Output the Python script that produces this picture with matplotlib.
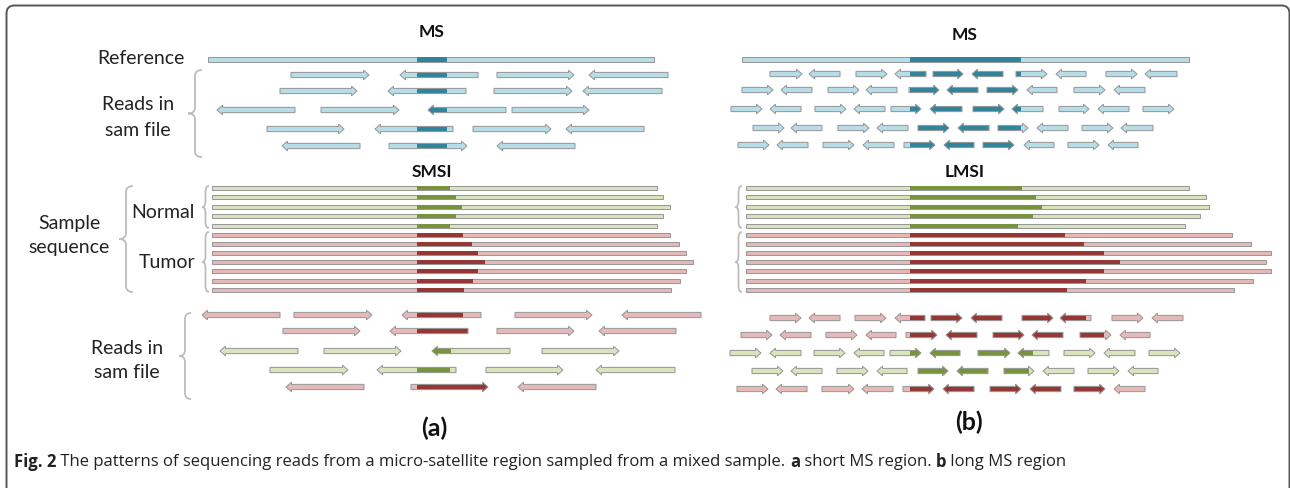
import matplotlib
matplotlib.use("Agg")
import matplotlib.pyplot as plt
from matplotlib.patches import Polygon, Rectangle, PathPatch
from matplotlib.path import Path

# ---- colours ----
BLUE_L, BLUE_D = "#b7dde8", "#31849b"
GREEN_L, GREEN_D = "#d7e4bd", "#77933c"
PINK_L, PINK_D = "#e6b9b8", "#953735"
EDGE = "#999999"

# ---- data (positions along the sequence, in figure px) ----
ref_a = (208, 654)
ms_a = (417, 447)
ref_b = (742, 1189)
ms_b = (910, 1021)

# reads from the reference panel: (start, end, direction)
reads_a_top = [
    [(291, 369, "R"), (400, 478, "L"), (497, 574, "R"), (589, 668, "L")],
    [(280, 357, "R"), (388, 466, "L"), (494, 572, "R"), (583, 662, "L")],
    [(217, 295, "L"), (321, 399, "R"), (428, 506, "L"), (512, 589, "R")],
    [(267, 344, "R"), (375, 453, "L"), (473, 551, "R"), (566, 644, "L")],
    [(282, 360, "L"), (389, 467, "R"), (497, 575, "L")],
]
reads_b_top = [
    [(770, 802, "R"), (809, 840, "L"), (856, 887, "R"), (895, 926, "L"), (933, 963, "R"),
     (972, 1003, "L"), (1016, 1047, "R"), (1056, 1086, "L"), (1106, 1137, "R"), (1145, 1177, "L")],
    [(742, 773, "R"), (781, 812, "L"), (828, 859, "R"), (866, 897, "L"), (909, 939, "R"),
     (947, 978, "L"), (987, 1018, "R"), (1027, 1057, "L"), (1074, 1105, "R"), (1114, 1145, "L")],
    [(731, 762, "R"), (770, 801, "L"), (815, 846, "R"), (854, 885, "L"), (891, 921, "R"),
     (930, 962, "L"), (973, 1004, "R"), (1012, 1043, "L"), (1059, 1089, "R"), (1098, 1129, "L"),
     (1143, 1174, "R")],
    [(753, 784, "R"), (791, 822, "L"), (838, 869, "R"), (877, 908, "L"), (918, 949, "R"),
     (958, 989, "L"), (998, 1028, "R"), (1037, 1068, "L"), (1082, 1113, "R"), (1121, 1153, "L")],
    [(738, 769, "R"), (777, 808, "L"), (823, 854, "R"), (863, 894, "L"), (904, 935, "R"),
     (944, 974, "L"), (983, 1014, "R"), (1024, 1054, "L"), (1068, 1099, "R"), (1108, 1138, "L")],
]

# sample sequences: end of the whole sequence and end of the MS allele
normal_a_end = [657, 663, 670, 663, 657]
normal_a_ms = [450, 456, 462, 456, 450]
tumor_a_end = [670, 679, 686, 693, 686, 680, 671]
tumor_a_ms = [463, 472, 478, 485, 478, 473, 464]
seq_a_start = 212

normal_b_end = [1189, 1206, 1209, 1200, 1185]
normal_b_ms = [1022, 1036, 1042, 1033, 1018]
tumor_b_end = [1232, 1251, 1271, 1266, 1271, 1253, 1234]
tumor_b_ms = [1065, 1084, 1104, 1120, 1104, 1086, 1067]
seq_b_start = 746

# reads from the mixed sample: origin per row, MS end of the allele per row
mixed_a_origin = ["tumor", "tumor", "normal", "normal", "tumor"]
mixed_a_ms_end = [463, 468, 451, 450, 488]
reads_a_bottom = [
    [(202, 280, "L"), (294, 372, "R"), (402, 481, "L"), (515, 592, "R"), (622, 701, "L")],
    [(283, 360, "R"), (390, 468, "L"), (497, 574, "R"), (599, 676, "L")],
    [(220, 298, "L"), (324, 401, "R"), (432, 510, "L"), (542, 619, "R")],
    [(270, 348, "R"), (377, 456, "L"), (486, 563, "R"), (596, 675, "L")],
    [(286, 364, "L"), (411, 488, "R"), (518, 596, "L")],
]
mixed_b_origin = ["tumor", "tumor", "normal", "normal", "tumor"]
mixed_b_ms_end = [1086, 1104, 1033, 1029, 1106]
reads_b_bottom = [
    [(770, 801, "R"), (809, 840, "L"), (855, 886, "R"), (895, 925, "L"), (931, 962, "R"),
     (971, 1002, "L"), (1022, 1053, "R"), (1060, 1091, "L"), (1112, 1143, "R"), (1152, 1183, "L")],
    [(741, 772, "R"), (780, 811, "L"), (826, 857, "R"), (866, 896, "L"), (906, 937, "R"),
     (946, 977, "L"), (993, 1024, "R"), (1032, 1063, "L"), (1080, 1111, "R"), (1120, 1150, "L")],
    [(730, 761, "R"), (770, 801, "L"), (814, 845, "R"), (854, 884, "L"), (890, 921, "R"),
     (930, 960, "L"), (978, 1010, "R"), (1018, 1049, "L"), (1064, 1095, "R"), (1104, 1135, "L"),
     (1149, 1180, "R")],
    [(752, 783, "R"), (791, 822, "L"), (837, 868, "R"), (877, 907, "L"), (918, 948, "R"),
     (957, 988, "L"), (1004, 1034, "R"), (1043, 1074, "L"), (1088, 1119, "R"), (1128, 1158, "L")],
    [(737, 768, "R"), (776, 807, "L"), (822, 854, "R"), (862, 893, "L"), (903, 934, "R"),
     (943, 974, "L"), (990, 1021, "R"), (1030, 1061, "L"), (1074, 1105, "R"), (1114, 1145, "L")],
]

caption_parts = [
    ("Fig. 2", "bold"),
    (" The patterns of sequencing reads from a micro-satellite region sampled from a mixed sample. ", "normal"),
    ("a", "bold"),
    (" short MS region. ", "normal"),
    ("b", "bold"),
    (" long MS region", "normal"),
]

# ---- layout ----
top_rows_y = [75, 91, 110, 129, 146]
seq_rows_y = [188, 197, 207, 216, 226, 235, 244, 253, 262, 271, 281, 290]
bottom_rows_a_y = [315, 331, 351, 370, 387]
bottom_rows_b_y = [318, 335, 353, 371, 389]

plt.rcParams["font.family"] = ["Lato", "DejaVu Sans"]
fig = plt.figure(figsize=(12.9, 4.88), dpi=100)
ax = fig.add_axes([0, 0, 1, 1])
ax.set_xlim(0, 1290)
ax.set_ylim(488, 0)
ax.axis("off")


def arrow_poly(s, e, y, d, h=2.6, hh=4.8, hl=5.5):
    if d == "R":
        pts = [(s, y - h), (e - hl, y - h), (e - hl, y - hh), (e, y),
               (e - hl, y + hh), (e - hl, y + h), (s, y + h)]
    else:
        pts = [(e, y - h), (s + hl, y - h), (s + hl, y - hh), (s, y),
               (s + hl, y + hh), (s + hl, y + h), (e, y + h)]
    return pts


def draw_read(s, e, y, d, light, dark, ms0, ms1):
    pts = arrow_poly(s, e, y, d)
    base = Polygon(pts, closed=True, facecolor=light, edgecolor="none", zorder=2)
    ax.add_patch(base)
    d0, d1 = max(s, ms0), min(e, ms1)
    if d1 > d0:
        r = Rectangle((d0, y - 6), d1 - d0, 12, facecolor=dark, edgecolor="none", zorder=3)
        ax.add_patch(r)
        r.set_clip_path(base)
    ax.add_patch(Polygon(pts, closed=True, facecolor="none", edgecolor=EDGE, lw=0.75, zorder=4))


def draw_bar(s, e, y, light, dark, ms0, ms1, h=4.6):
    ax.add_patch(Rectangle((s, y - h / 2), e - s, h, facecolor=light, edgecolor=EDGE, lw=0.75, zorder=2))
    ax.add_patch(Rectangle((ms0, y - h / 2), ms1 - ms0, h, facecolor=dark, edgecolor="none", zorder=3))


def brace(x_tip, x_end, y0, y1, color="#bdbdbd"):
    xm = (x_tip + x_end) / 2
    ymid = (y0 + y1) / 2
    r = min(6, (y1 - y0) / 6)
    verts = [(x_end, y0), (xm, y0), (xm, y0 + r), (xm, ymid - r), (xm, ymid), (x_tip, ymid),
             (xm, ymid), (xm, ymid + r), (xm, y1 - r), (xm, y1), (x_end, y1)]
    codes = [Path.MOVETO, Path.CURVE3, Path.CURVE3, Path.LINETO, Path.CURVE3, Path.CURVE3,
             Path.CURVE3, Path.CURVE3, Path.LINETO, Path.CURVE3, Path.CURVE3]
    ax.add_patch(PathPatch(Path(verts, codes), facecolor="none", edgecolor=color, lw=1.3, zorder=2))


# frame
fx0, fy0, fx1, rad = 6.5, 5.5, 1289.5, 8
fverts = [(fx0, 490), (fx0, fy0 + rad), (fx0, fy0), (fx0 + rad, fy0), (fx1 - rad, fy0),
          (fx1, fy0), (fx1, fy0 + rad), (fx1, 490)]
fcodes = [Path.MOVETO, Path.LINETO, Path.CURVE3, Path.CURVE3, Path.LINETO,
          Path.CURVE3, Path.CURVE3, Path.LINETO]
ax.add_patch(PathPatch(Path(fverts, fcodes), facecolor="none", edgecolor="#555555", lw=1.4, zorder=1))

# ---- panel (a) ----
draw_bar(ref_a[0], ref_a[1], 59, BLUE_L, BLUE_D, ms_a[0], ms_a[1], h=5)
for y, row in zip(top_rows_y, reads_a_top):
    for s, e, d in row:
        draw_read(s, e, y, d, BLUE_L, BLUE_D, ms_a[0], ms_a[1])

for i in range(5):
    draw_bar(seq_a_start, normal_a_end[i], seq_rows_y[i], GREEN_L, GREEN_D, ms_a[0], normal_a_ms[i])
for i in range(7):
    draw_bar(seq_a_start, tumor_a_end[i], seq_rows_y[5 + i], PINK_L, PINK_D, ms_a[0], tumor_a_ms[i])

for y, row, org, msend in zip(bottom_rows_a_y, reads_a_bottom, mixed_a_origin, mixed_a_ms_end):
    light, dark = (PINK_L, PINK_D) if org == "tumor" else (GREEN_L, GREEN_D)
    for s, e, d in row:
        draw_read(s, e, y, d, light, dark, ms_a[0], msend)

# ---- panel (b) ----
draw_bar(ref_b[0], ref_b[1], 59, BLUE_L, BLUE_D, ms_b[0], ms_b[1], h=5)
for y, row in zip(top_rows_y, reads_b_top):
    for s, e, d in row:
        draw_read(s, e, y - 1, d, BLUE_L, BLUE_D, ms_b[0], ms_b[1])

for i in range(5):
    draw_bar(seq_b_start, normal_b_end[i], seq_rows_y[i], GREEN_L, GREEN_D, ms_b[0], normal_b_ms[i])
for i in range(7):
    draw_bar(seq_b_start, tumor_b_end[i], seq_rows_y[5 + i], PINK_L, PINK_D, ms_b[0], tumor_b_ms[i])

for y, row, org, msend in zip(bottom_rows_b_y, reads_b_bottom, mixed_b_origin, mixed_b_ms_end):
    light, dark = (PINK_L, PINK_D) if org == "tumor" else (GREEN_L, GREEN_D)
    for s, e, d in row:
        draw_read(s, e, y, d, light, dark, ms_b[0], msend)

# ---- braces ----
brace(188, 202, 70, 157)
brace(119, 133, 186, 292)
brace(202, 209, 186, 228)
brace(202, 209, 232, 292)
brace(735, 742, 186, 228)
brace(735, 742, 232, 292)
brace(179, 191, 313, 399)

# ---- labels ----
lab = dict(fontsize=14, color="#222222", ha="center", va="center")
ax.text(141, 59, "Reference", **lab)
ax.text(138, 105, "Reads in", **lab)
ax.text(138, 130, "sam file", **lab)
ax.text(69, 223, "Sample", **lab)
ax.text(69, 248, "sequence", **lab)
ax.text(163, 213, "Normal", **lab)
ax.text(167, 262, "Tumor", **lab)
ax.text(127, 348, "Reads in", **lab)
ax.text(127, 373, "sam file", **lab)

hdr = dict(fontsize=12.5, fontweight="bold", color="#111111", ha="center", va="center")
ax.text(432, 32, "MS", **hdr)
ax.text(432, 172, "SMSI", **hdr)
ax.text(965, 35, "MS", **hdr)
ax.text(965, 172, "LMSI", **hdr)
ax.text(434, 428, "(a)", fontsize=18, fontweight="bold", color="#111111", ha="center", va="center")
ax.text(969, 422, "(b)", fontsize=18, fontweight="bold", color="#111111", ha="center", va="center")

# caption, pieces laid out one after the other
renderer = fig.canvas.get_renderer()
x = 14
for txt, w in caption_parts:
    t = ax.text(x, 462, txt, fontsize=12, fontweight=w, color="#222222",
                family=["Open Sans", "DejaVu Sans"], ha="left", va="center")
    bb = t.get_window_extent(renderer)
    x += bb.width

fig.savefig("out.png", dpi=100)
